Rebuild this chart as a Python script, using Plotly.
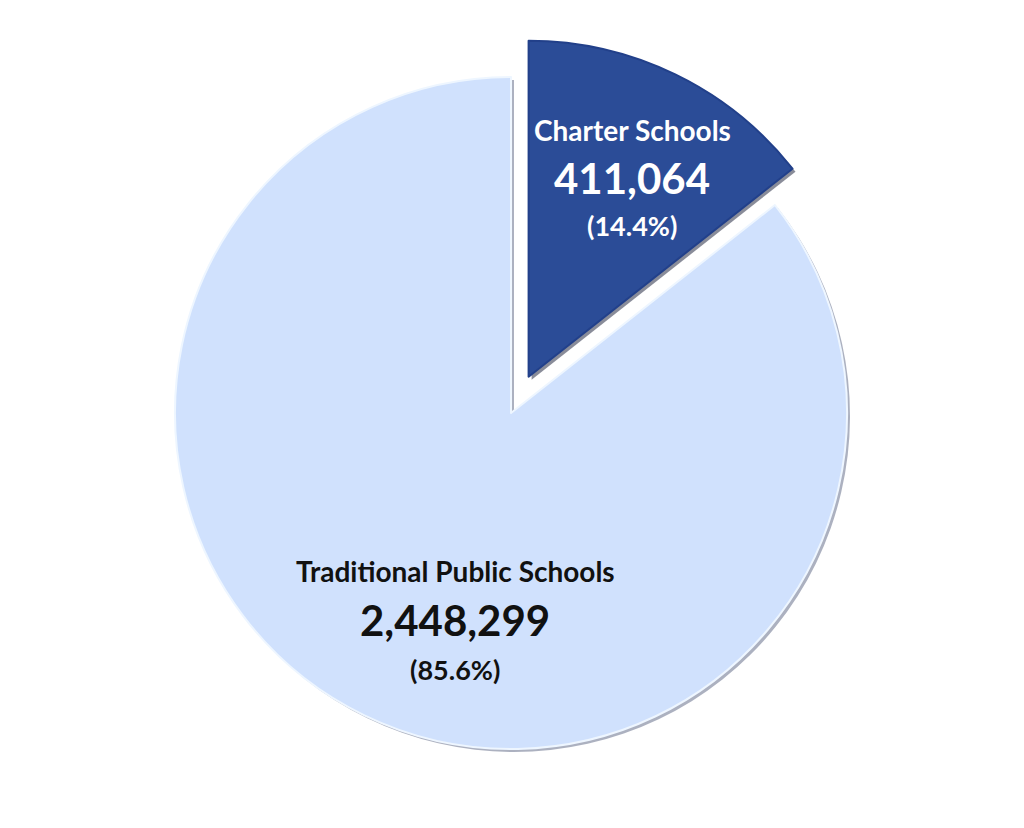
import plotly.graph_objects as go

# Data
categories = ["Charter Schools", "Traditional Public Schools"]
enrollment = [411064, 2448299]
percent_labels = ["14.4%", "85.6%"]

colors = ["#2B4C97", "#D0E1FD"]
pulls = [0.12, 0.0]

# page has an 8px body margin; figure fills the rest of the 1024x828 window
OFF = 8
W, H = 1024 - 2 * OFF, 828 - 2 * OFF
cx, cy, r = 511, 413, 336
half = r * (1 + max(pulls))

def px(X):
    return (X - OFF) / W

def py(Y):
    return 1 - (Y - OFF) / H

def dom(dx=0, dy=0):
    return dict(x=[px(cx + dx - half), px(cx + dx + half)],
                y=[py(cy + dy + half), py(cy + dy - half)])

fig = go.Figure()

# soft shadow / bevel underlay
fig.add_trace(go.Pie(
    labels=categories, values=enrollment, sort=False, direction="clockwise",
    rotation=0, pull=pulls, domain=dom(3, 3), textinfo="none", hoverinfo="skip",
    marker=dict(colors=["rgba(40,45,70,0.55)", "rgba(90,100,130,0.5)"],
                line=dict(color="rgba(0,0,0,0)", width=0)),
    showlegend=False,
))

fig.add_trace(go.Pie(
    labels=categories, values=enrollment, sort=False, direction="clockwise",
    rotation=0, pull=pulls, domain=dom(), textinfo="none",
    marker=dict(colors=colors, line=dict(color=["#22408A", "#EEF6FF"], width=2)),
    showlegend=False,
))

# Labels (page pixel positions of each line's centre)
label_specs = [
    (632, [130, 178, 226], "#FFFFFF"),
    (455, [571, 620, 669], "#111111"),
]
sizes = [28, 42, 27]
annotations = []
for i, (lx, ys, col) in enumerate(label_specs):
    texts = [categories[i], f"{enrollment[i]:,}", f"({percent_labels[i]})"]
    for txt, sz, ly in zip(texts, sizes, ys):
        annotations.append(dict(
            x=px(lx), y=py(ly), xref="paper", yref="paper",
            text=f"<b>{txt}</b>", showarrow=False,
            font=dict(family="Lato, Open Sans, sans-serif", size=sz, color=col),
            xanchor="center", yanchor="middle",
        ))

fig.update_layout(
    width=W, height=H,
    margin=dict(l=0, r=0, t=0, b=0),
    paper_bgcolor="white", plot_bgcolor="white",
    annotations=annotations,
)

fig.write_html("out.html")
